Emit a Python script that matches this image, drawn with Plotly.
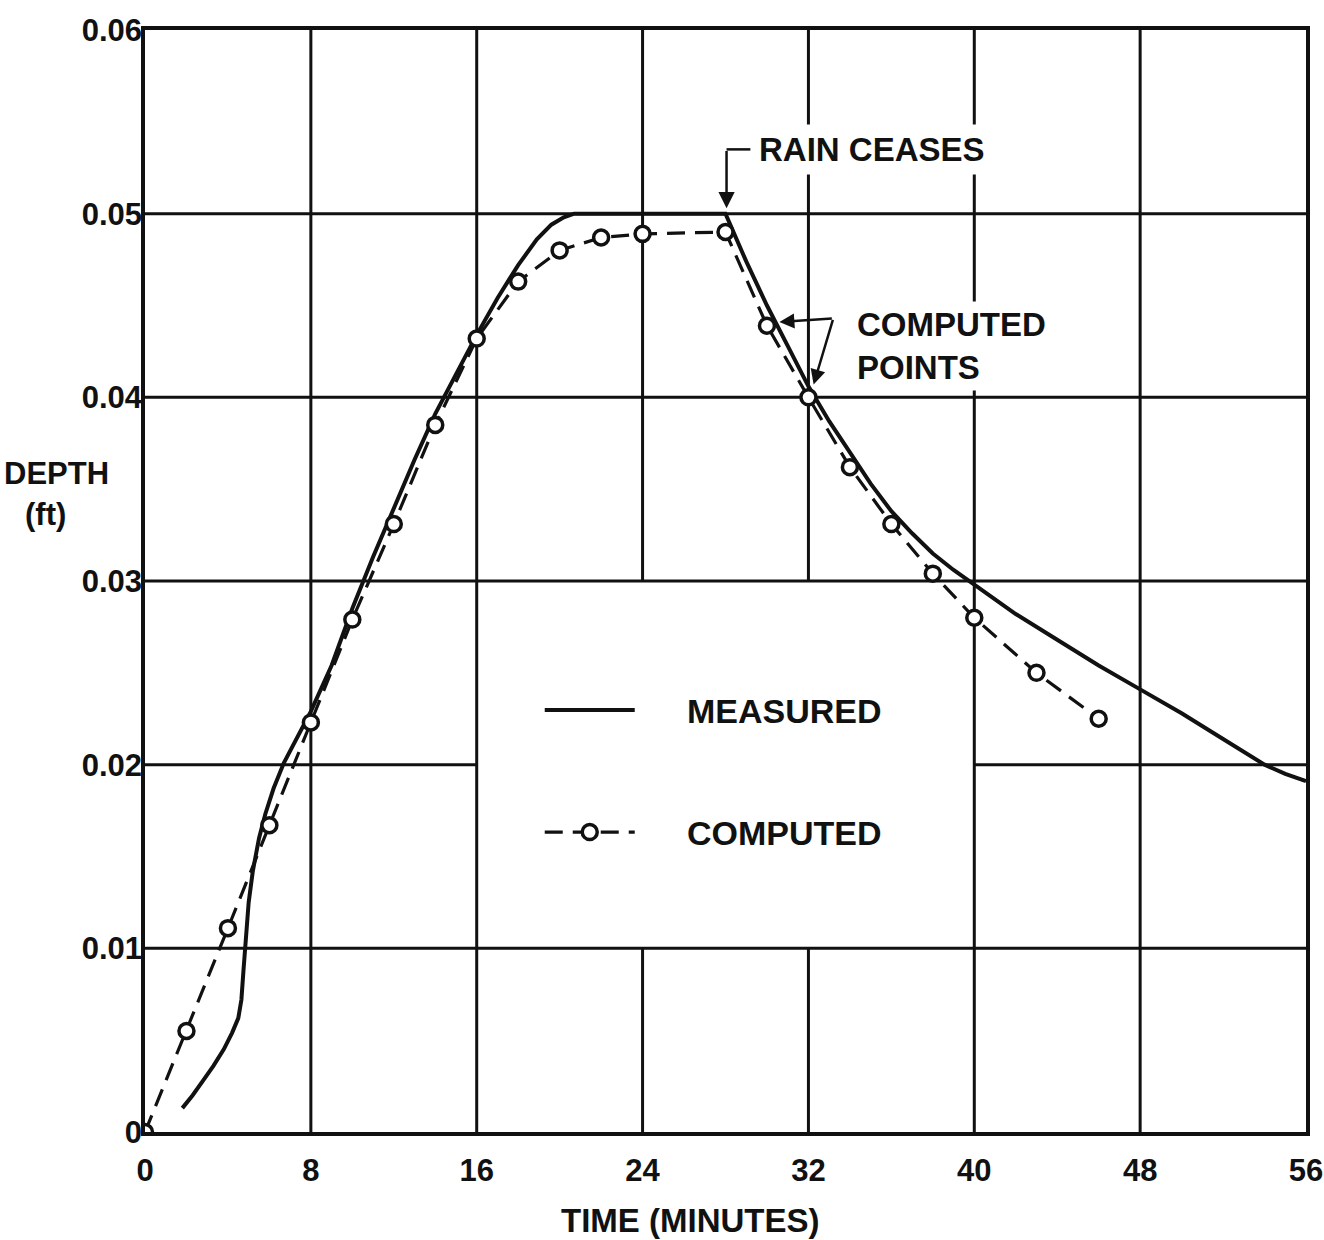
import plotly.graph_objects as go

# ---------------- data ----------------
measured_t = [1.8, 2.3, 2.8, 3.3, 3.8, 4.2, 4.5, 4.65, 4.75, 4.85, 5.0, 5.2, 5.5, 5.8, 6.2, 6.7, 7.3, 8.0,
              9.0, 10.0, 11.0, 12.0, 13.0, 14.0, 15.0, 16.0, 17.0, 18.0, 18.9, 19.6, 20.2, 20.7,
              22.0, 24.0, 26.0, 28.0, 29.0, 30.0, 31.0, 32.0, 33.0, 34.0, 35.0, 36.0, 37.0, 38.0, 39.0,
              40.0, 42.0, 44.0, 46.0, 48.0, 50.0, 52.0, 54.0, 55.0, 56.0]
measured_d = [0.0013, 0.0020, 0.0028, 0.0036, 0.0045, 0.0054, 0.0062, 0.0072, 0.0088, 0.0105, 0.0125, 0.0142, 0.0160, 0.0173, 0.0187, 0.0201, 0.0214, 0.0229,
              0.0254, 0.0285, 0.0313, 0.0340, 0.0366, 0.0391, 0.0413, 0.0434, 0.0454, 0.0472, 0.0486, 0.0494, 0.0498, 0.0500,
              0.0500, 0.0500, 0.0500, 0.0500, 0.0474, 0.0450, 0.0428, 0.0406, 0.0387, 0.0370, 0.0353, 0.0338, 0.0326, 0.0315, 0.0306,
              0.0298, 0.0282, 0.0268, 0.0254, 0.0241, 0.0228, 0.0214, 0.0200, 0.0195, 0.0191]

computed_t = [0, 2, 4, 6, 8, 10, 12, 14, 16, 18, 20, 22, 24, 28, 30, 32, 34, 36, 38, 40, 43, 46]
computed_d = [0.0, 0.0055, 0.0111, 0.0167, 0.0223, 0.0279, 0.0331, 0.0385, 0.0432, 0.0463, 0.0480, 0.0487, 0.0489, 0.0490,
              0.0439, 0.0400, 0.0362, 0.0331, 0.0304, 0.0280, 0.0250, 0.0225]

x_ticks = [0, 8, 16, 24, 32, 40, 48, 56]
y_ticks = [0, 0.01, 0.02, 0.03, 0.04, 0.05, 0.06]
y_tick_text = ["0", "0.01", "0.02", "0.03", "0.04", "0.05", "0.06"]

legend_box_x = (16, 40)
legend_box_y = (0.01, 0.03)

FONT = "Liberation Sans"
BLACK = "#111111"
NB = "\u00a0"

fig = go.Figure()

fig.add_trace(go.Scatter(
    x=measured_t, y=measured_d, mode="lines", name=NB * 5 + "MEASURED",
    line=dict(color=BLACK, width=4),
    legendgroup="a",
))
fig.add_trace(go.Scatter(
    x=computed_t, y=computed_d, mode="lines+markers", name=NB * 5 + "COMPUTED",
    line=dict(color=BLACK, width=3.2, dash="18px,10px"),
    marker=dict(symbol="circle", size=15, color="white", line=dict(color=BLACK, width=3.5)),
    legendgroup="b",
))

# ---------------- grid (skipping the legend box interior) ----------------
shapes = []
grid_line = dict(color=BLACK, width=3)
for xv in x_ticks[1:-1]:
    if legend_box_x[0] < xv < legend_box_x[1]:
        shapes.append(dict(type="line", xref="x", yref="y", x0=xv, x1=xv, y0=y_ticks[0], y1=legend_box_y[0], line=grid_line, layer="below"))
        shapes.append(dict(type="line", xref="x", yref="y", x0=xv, x1=xv, y0=legend_box_y[1], y1=y_ticks[-1], line=grid_line, layer="below"))
    else:
        shapes.append(dict(type="line", xref="x", yref="y", x0=xv, x1=xv, y0=y_ticks[0], y1=y_ticks[-1], line=grid_line, layer="below"))
for yv in y_ticks[1:-1]:
    if legend_box_y[0] < yv < legend_box_y[1]:
        shapes.append(dict(type="line", xref="x", yref="y", x0=x_ticks[0], x1=legend_box_x[0], y0=yv, y1=yv, line=grid_line, layer="below"))
        shapes.append(dict(type="line", xref="x", yref="y", x0=legend_box_x[1], x1=x_ticks[-1], y0=yv, y1=yv, line=grid_line, layer="below"))
    else:
        shapes.append(dict(type="line", xref="x", yref="y", x0=x_ticks[0], x1=x_ticks[-1], y0=yv, y1=yv, line=grid_line, layer="below"))

# leader for RAIN CEASES
shapes.append(dict(type="line", xref="x", yref="y", x0=28.05, x1=29.2, y0=0.0535, y1=0.0535, line=dict(color=BLACK, width=2.5)))

annotations = [
    dict(x=29.3, y=0.0535, xref="x", yref="y", text="RAIN CEASES", showarrow=False, xanchor="left", yanchor="middle",
         font=dict(family=FONT, size=33, color=BLACK, weight="bold"), bgcolor="white", borderpad=6),
    dict(x=28.05, y=0.0503, ax=28.05, ay=0.0535, xref="x", yref="y", axref="x", ayref="y", text="", showarrow=True,
         arrowhead=2, arrowsize=1.3, arrowwidth=2.5, arrowcolor=BLACK),
    dict(x=34.1, y=0.0428, xref="x", yref="y", text="COMPUTED<br>POINTS", showarrow=False, xanchor="left", yanchor="middle",
         align="left", font=dict(family=FONT, size=33, color=BLACK, weight="bold"), bgcolor="white", borderpad=4),
    dict(x=30.6, y=0.0441, ax=33.2, ay=0.0443, xref="x", yref="y", axref="x", ayref="y", text="", showarrow=True,
         arrowhead=2, arrowsize=1.2, arrowwidth=2.5, arrowcolor=BLACK),
    dict(x=32.25, y=0.0407, ax=33.2, ay=0.0443, xref="x", yref="y", axref="x", ayref="y", text="", showarrow=True,
         arrowhead=2, arrowsize=1.2, arrowwidth=2.5, arrowcolor=BLACK),
    dict(x=-0.076, y=0.598, xref="paper", yref="paper", text="DEPTH", showarrow=False, xanchor="center", yanchor="middle",
         font=dict(family=FONT, size=31, color=BLACK, weight="bold")),
    dict(x=-0.086, y=0.560, xref="paper", yref="paper", text="(ft)", showarrow=False, xanchor="center", yanchor="middle",
         font=dict(family=FONT, size=31, color=BLACK, weight="bold")),
    dict(x=0.469, y=-0.080, xref="paper", yref="paper", text="TIME (MINUTES)", showarrow=False, xanchor="center", yanchor="middle",
         font=dict(family=FONT, size=33, color=BLACK, weight="bold")),
]

fig.update_layout(
    width=1324, height=1240,
    margin=dict(l=145, r=18, t=30, b=108),
    paper_bgcolor="white", plot_bgcolor="white",
    showlegend=True,
    legend=dict(x=0.34, y=0.409, xanchor="left", yanchor="top", bgcolor="rgba(0,0,0,0)",
                font=dict(family=FONT, size=34, color=BLACK, weight="bold"),
                itemwidth=90, traceorder="grouped", tracegroupgap=75),
    shapes=shapes,
    annotations=annotations,
    xaxis=dict(range=[x_ticks[0], x_ticks[-1]], tickvals=x_ticks, ticktext=[str(v) for v in x_ticks],
               showgrid=False, zeroline=False, showline=True, mirror=True, linecolor=BLACK, linewidth=3.5,
               ticks="", ticklabelstandoff=8, automargin=False, ticklabeloverflow="allow",
               tickfont=dict(family=FONT, size=31, color=BLACK, weight="bold")),
    yaxis=dict(range=[y_ticks[0], y_ticks[-1]], tickvals=y_ticks, ticktext=y_tick_text,
               showgrid=False, zeroline=False, showline=True, mirror=True, linecolor=BLACK, linewidth=3.5,
               ticks="", ticklabelstandoff=-7, automargin=False,
               tickfont=dict(family=FONT, size=31, color=BLACK, weight="bold")),
)

fig.write_html("out.html")
